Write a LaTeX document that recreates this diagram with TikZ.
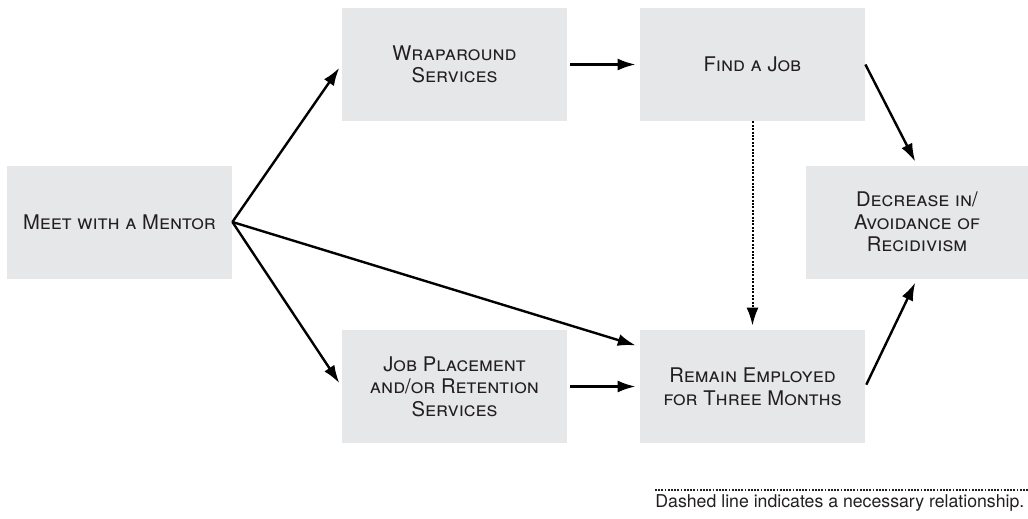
\documentclass[tikz,border=0pt]{standalone}
\usepackage{fontspec}
\setmainfont{TeX Gyre Heros}
\usetikzlibrary{arrows.meta}
\definecolor{boxgray}{HTML}{E6E7E8}
\definecolor{inkgray}{HTML}{231F20}
\begin{document}
\begin{tikzpicture}[x=0.5pt,y=-0.5pt,
  stage/.style={shape=rectangle,fill=boxgray,minimum width=112.5pt,minimum height=56.5pt,inner sep=0pt,align=center,text=inkgray,font=\fontsize{10.1}{11.3}\selectfont\scshape},
  flow/.style={-{Latex[length=9pt,width=6pt]},line width=1.2pt,shorten >=2pt}]
\useasboundingbox (0,0) rectangle (1028,519);
\node[stage] (M) at (119.5,222) {Meet with a Mentor};
\node[stage] (W) at (454.5,64.5) {Wraparound\\Services};
\node[stage] (F) at (752.5,64.5) {Find a Job};
\node[stage] (P) at (454.5,386.5) {Job Placement\\and/or Retention\\Services};
\node[stage] (R) at (752.5,386.5) {Remain Employed\\for Three Months};
\node[stage,minimum width=111pt] (D) at (917,222) {Decrease in/\\Avoidance of\\Recidivism};
\path [flow] (M.east) edge (W.west);
\path [flow] (M.east) edge (P.west);
\path [flow] (M.east) edge ([yshift=-8.5pt]R.north west);
\path [flow,shorten <=1.5pt] (W) edge (F);
\path [flow,shorten <=1.5pt] (P) edge (R);
\path [flow] (F.east) edge (D.north);
\path [flow,shorten <=1pt] (R.east) edge (D.south);
\path [flow,line width=1pt,dash pattern=on 1pt off 0.7pt] (F) edge (R);
% legend
\coordinate (L1) at (655,490);
\coordinate (L2) at (1028,490);
\draw [line width=0.9pt,dash pattern=on 0.9pt off 0.7pt,inkgray] (L1) -- (L2);
\node[anchor=base west,inner sep=0pt,text=inkgray,font=\fontsize{8.85}{10}\selectfont] (N) at (655,507) {Dashed line indicates a necessary relationship.};
\end{tikzpicture}
\end{document}
